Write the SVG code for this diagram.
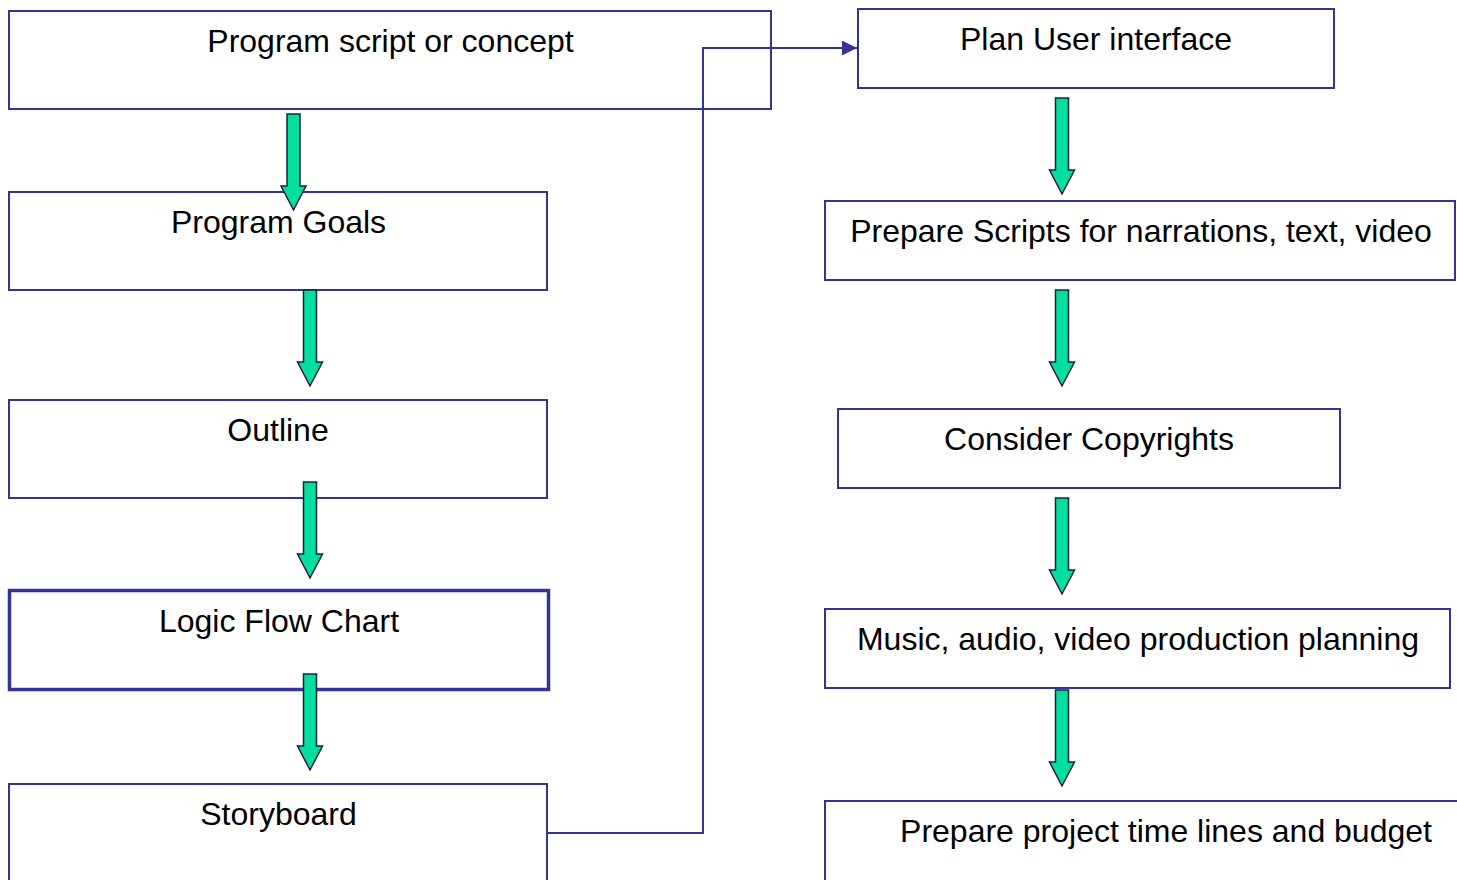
<svg xmlns="http://www.w3.org/2000/svg" width="1457" height="880" viewBox="0 0 1457 880">
  <style>
    .box { fill: #ffffff; stroke: #333399; stroke-width: 2; }
    .box.bold { stroke-width: 3.5; }
    .label { font-family: "Liberation Sans", Arial, sans-serif; font-size: 32px; fill: #000000; text-anchor: middle; }
    .flow { fill: #00DF9F; stroke: #1f1f3f; stroke-width: 1.5; stroke-linejoin: miter; }
    .link { fill: none; stroke: #333399; stroke-width: 2; }
  </style>
  <defs>
    <marker id="tri" viewBox="0 0 15 15" refX="15" refY="7.5" markerWidth="15" markerHeight="15" markerUnits="userSpaceOnUse" orient="auto">
      <path d="M0,0 L15,7.5 L0,15 Z" fill="#333399"/>
    </marker>
    <!-- block arrow pointing down, tip at (0,96) -->
    <path id="down" d="M-6.5,0 H6.5 V72 H12.5 L0,96 L-12.5,72 H-6.5 Z"/>
  </defs>
  <rect width="1457" height="880" fill="#ffffff"/>

  <!-- left column -->
  <g id="node-script">
    <rect class="box" x="9" y="11" width="762" height="98"/>
    <text class="label" x="390.5" y="52">Program script or concept</text>
  </g>
  <g id="node-goals">
    <rect class="box" x="9" y="192" width="538" height="98"/>
    <text class="label" x="278.5" y="233">Program Goals</text>
  </g>
  <g id="node-outline">
    <rect class="box" x="9" y="400" width="538" height="98"/>
    <text class="label" x="278" y="441">Outline</text>
  </g>
  <g id="node-logic">
    <rect class="box bold" x="9.5" y="590.5" width="539" height="99"/>
    <text class="label" x="279" y="632">Logic Flow Chart</text>
  </g>
  <g id="node-storyboard">
    <rect class="box" x="9" y="784" width="538" height="110"/>
    <text class="label" x="278.5" y="825">Storyboard</text>
  </g>

  <!-- right column -->
  <g id="node-ui">
    <rect class="box" x="858" y="9" width="476" height="79"/>
    <text class="label" x="1096" y="50">Plan User interface</text>
  </g>
  <g id="node-prep-scripts">
    <rect class="box" x="825" y="201" width="630" height="79"/>
    <text class="label" x="1141" y="242">Prepare Scripts for narrations, text, video</text>
  </g>
  <g id="node-copyrights">
    <rect class="box" x="838" y="409" width="502" height="79"/>
    <text class="label" x="1089" y="450">Consider Copyrights</text>
  </g>
  <g id="node-music">
    <rect class="box" x="825" y="609" width="625" height="79"/>
    <text class="label" x="1138" y="650">Music, audio, video production planning</text>
  </g>
  <g id="node-budget">
    <rect class="box" x="825" y="801" width="650" height="100"/>
    <text class="label" x="1166" y="842">Prepare project time lines and budget</text>
  </g>

  <!-- connectors -->
  <g id="connectors">
    <path class="link" d="M547,833 H703 V48 H857" marker-end="url(#tri)"/>
    <use href="#down" class="flow" x="293.5" y="114"/>
    <use href="#down" class="flow" x="310" y="290"/>
    <use href="#down" class="flow" x="310" y="482"/>
    <use href="#down" class="flow" x="310" y="674"/>
    <use href="#down" class="flow" x="1062" y="98"/>
    <use href="#down" class="flow" x="1062" y="290"/>
    <use href="#down" class="flow" x="1062" y="498"/>
    <use href="#down" class="flow" x="1062" y="690"/>
  </g>
</svg>
